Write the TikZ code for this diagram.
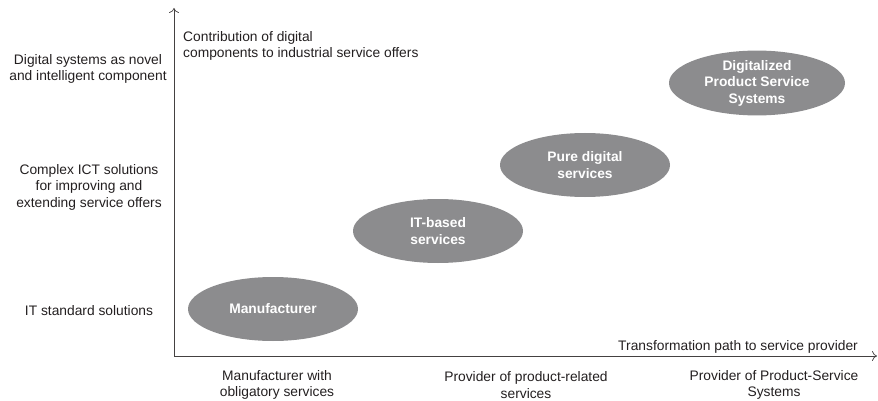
\documentclass[tikz,border=0pt]{standalone}
\usepackage{fontspec}
\setmainfont{Liberation Sans}
\usetikzlibrary{shapes.geometric, arrows.meta}
\definecolor{stagegray}{HTML}{8C8C8E}
\definecolor{labelgray}{HTML}{231F20}

\begin{document}
\begin{tikzpicture}[x=1pt, y=-1pt,
        stage/.style={ellipse, fill=stagegray, text=white, align=center, inner sep=0,
            minimum width=170pt, minimum height=64pt, font=\fontsize{13.8}{16.5}\selectfont\bfseries},
        lbl/.style={align=center, text=labelgray, inner sep=0, font=\fontsize{13.8}{16.5}\selectfont},
        axis/.style={draw=labelgray!85, line width=0.7pt, -{To[length=5pt, width=10pt]}}]
                \useasboundingbox (0,0) rectangle (878,401);
                \coordinate (o) at (174,356);
                \coordinate (ytip) at (174,8);
                \coordinate (xtip) at (877,356);
                \draw [axis] (o) -- (ytip);
                \draw [axis] (o) -- (xtip);

                \node (ylabel) [lbl, align=left, anchor=west] at (183,46) {Contribution of digital\\components to industrial service offers};
                \node (xlabel) [lbl, anchor=east] at (858,347) {Transformation path to service provider};

                \node (y3) [lbl] at (88,69) {Digital systems as novel\\and intelligent component};
                \node (y2) [lbl] at (89,187) {Complex ICT solutions\\for improving and\\extending service offers};
                \node (y1) [lbl] at (89,311) {IT standard solutions};

                \node (x1) [lbl] at (277,385) {Manufacturer with\\obligatory services};
                \node (x2) [lbl] at (526,385) {Provider of product-related\\services};
                \node (x3) [lbl] at (774,385) {Provider of Product-Service\\Systems};

                \node (mf)  [stage] at (273,309) {Manufacturer};
                \node (itb) [stage] at (438,231) {IT-based\\services};
                \node (pds) [stage] at (585,165) {Pure digital\\services};
                \node (pss) [stage, minimum width=176pt] at (757,83) {Digitalized\\Product Service\\Systems};
            \end{tikzpicture}
\end{document}
